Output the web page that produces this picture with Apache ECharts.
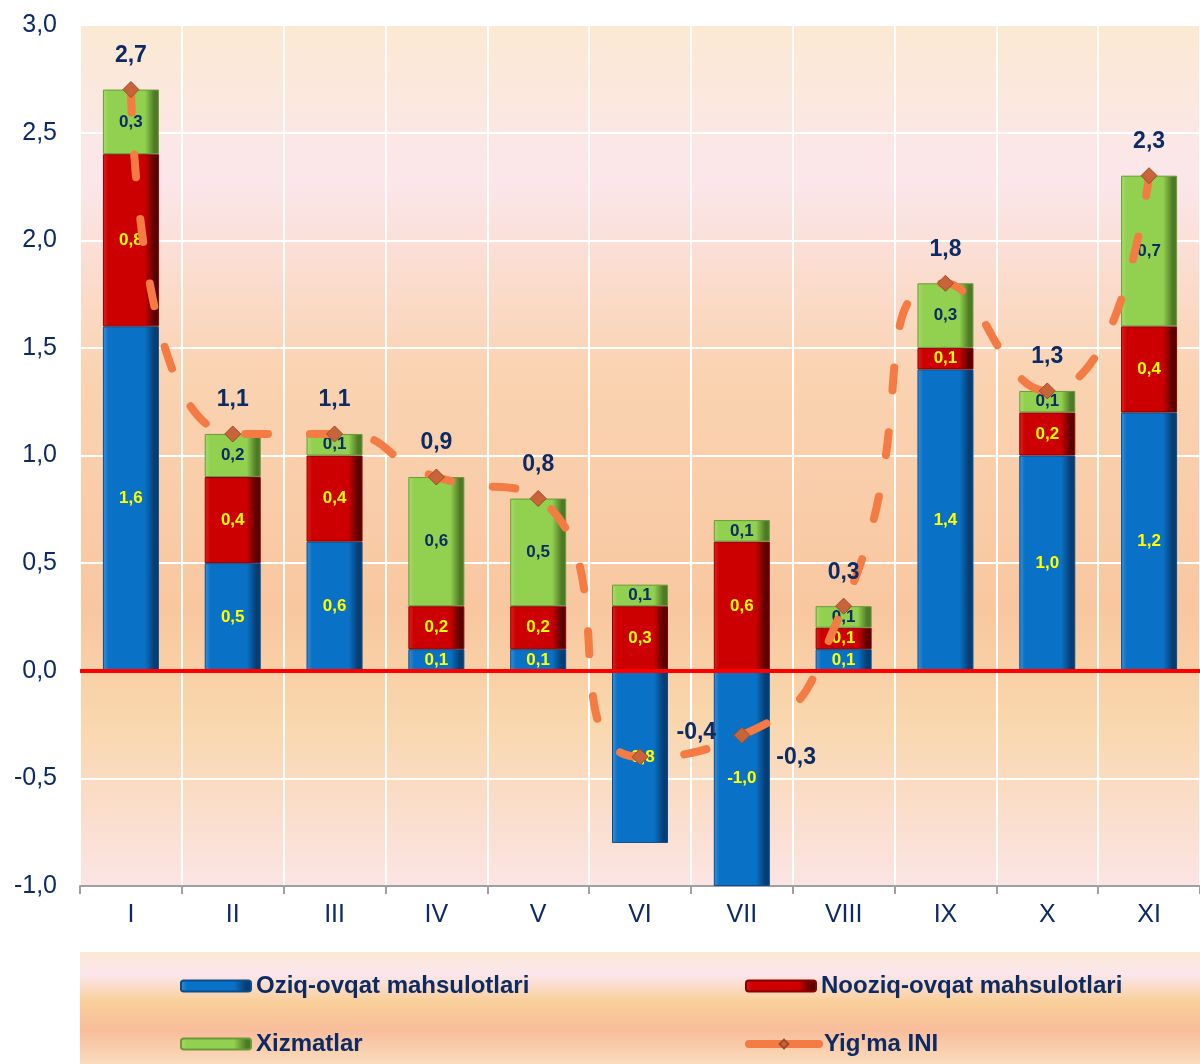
<!DOCTYPE html>
<html><head><meta charset="utf-8">
<script src="https://cdn.jsdelivr.net/npm/echarts@6/dist/echarts.min.js"></script>
<style>html,body{margin:0;padding:0;background:#fff}#c{width:1200px;height:1064px}</style>
</head><body><div id="c"></div>
<script>
const categories = ['I','II','III','IV','V','VI','VII','VIII','IX','X','XI'];
const foodValues = [1.6, 0.5, 0.6, 0.1, 0.1, -0.8, -1.0, 0.1, 1.4, 1.0, 1.2];
const nonFoodValues = [0.8, 0.4, 0.4, 0.2, 0.2, 0.3, 0.6, 0.1, 0.1, 0.2, 0.4];
const servicesValues = [0.3, 0.2, 0.1, 0.6, 0.5, 0.1, 0.1, 0.1, 0.3, 0.1, 0.7];
const totalValues = [2.7, 1.1, 1.1, 0.9, 0.8, -0.4, -0.3, 0.3, 1.8, 1.3, 2.3];
const seriesNames = ['Oziq-ovqat mahsulotlari','Nooziq-ovqat mahsulotlari','Xizmatlar',"Yig'ma INI"];

const FONT = 'Liberation Sans, Arial, sans-serif';
const NAVY = '#0c2a63';
const fmt = v => Number(v).toFixed(1).replace('.', ',');
const hgrad = (a, b, c) => ({type:'linear',x:0,y:0,x2:1,y2:0,colorStops:[
  {offset:0,color:b},{offset:0.1,color:a},{offset:0.75,color:a},{offset:0.92,color:c},{offset:1,color:c}]});

const chart = echarts.init(document.getElementById('c'), null, {renderer:'canvas'});
const barLabel = (color) => ({show:true, position:'inside', color, fontFamily:FONT, fontWeight:'bold', fontSize:17,
  formatter: p => fmt(p.value)});

const lineData = totalValues.map((v, i) => {
  const d = {value: v};
  if (i === 5) d.label = {position:'right', offset:[14,-24]};
  if (i === 6) d.label = {position:'right', offset:[12,22]};
  return d;
});

chart.setOption({
  animation:false,
  backgroundColor:'#ffffff',
  textStyle:{fontFamily:FONT},
  graphic:[{type:'rect', shape:{x:80,y:952,width:1120,height:112}, z:-10,
    style:{fill:{type:'linear',x:0,y:0,x2:0,y2:1,colorStops:[
      {offset:0,color:'#fbe9d4'},{offset:0.2,color:'#fbe6ec'},{offset:0.45,color:'#f9cf98'},
      {offset:0.7,color:'#f8bd9b'},{offset:1,color:'#fadcbc'}]}}}],
  grid:{left:80, right:0, top:25, bottom:178, show:true, borderWidth:0,
    backgroundColor:{type:'linear',x:0,y:0,x2:0,y2:1,colorStops:[
      {offset:0,color:'#fbe9d3'},{offset:0.18,color:'#fbe6eb'},{offset:0.4,color:'#fad3b2'},
      {offset:0.68,color:'#f8c7a0'},{offset:0.8,color:'#f9d6ab'},{offset:1,color:'#fbe4e4'}]}},
  legend:[
    {data:[seriesNames[0]], left:175, top:969},
    {data:[seriesNames[1]], left:740, top:969},
    {data:[seriesNames[2]], left:175, top:1027},
    {data:[seriesNames[3]], left:740, top:1027}
  ].map(l => Object.assign(l, {itemWidth:70, itemHeight:11, itemGap:8,
    lineStyle:{width:8, type:'solid', cap:'round'},
    textStyle:{color:NAVY, fontFamily:FONT, fontWeight:'bold', fontSize:24}})),
  xAxis:{type:'category', data:categories,
    axisLine:{show:true, onZero:false, lineStyle:{color:'#a0a0a0', width:2}},
    axisTick:{show:true, length:8, lineStyle:{color:'#a0a0a0', width:2}},
    axisLabel:{color:NAVY, fontSize:25, margin:17, fontFamily:FONT},
    splitLine:{show:true, lineStyle:{color:'#ffffff', width:2}}},
  yAxis:{type:'value', min:-1, max:3, interval:0.5,
    axisLine:{show:false}, axisTick:{show:false},
    axisLabel:{color:NAVY, fontSize:25, margin:23, fontFamily:FONT, formatter: v => fmt(v)},
    splitLine:{show:true, lineStyle:{color:'#ffffff', width:2}}},
  series:[
    {name:seriesNames[0], type:'bar', stack:'s', data:foodValues, barWidth:56,
      itemStyle:{color:hgrad('#0a72c6','#3a90dc','#063d73'), borderColor:'#0a4d8c', borderWidth:1},
      label:barLabel('#ffff00'),
      markLine:{silent:true, symbol:'none', label:{show:false}, z:5,
        lineStyle:{color:'#ff0000', width:4, type:'solid'}, data:[{yAxis:0}]}},
    {name:seriesNames[1], type:'bar', stack:'s', data:nonFoodValues, barWidth:56,
      itemStyle:{color:hgrad('#cc0000','#e02020','#5a0000'), borderColor:'#8a0000', borderWidth:1},
      label:barLabel('#ffff00')},
    {name:seriesNames[2], type:'bar', stack:'s', data:servicesValues, barWidth:56,
      itemStyle:{color:hgrad('#92d050','#a8dc6c','#4e7a25'), borderColor:'#6a9a3a', borderWidth:1},
      label:barLabel('#0c2a63')},
    {name:seriesNames[3], type:'line', data:lineData, smooth:0.6, z:10,
      symbol:'diamond', symbolSize:16,
      itemStyle:{color:'#c8643a', borderColor:'#a04a28', borderWidth:1},
      lineStyle:{color:'#f47b43', width:8, type:[23,42], cap:'round'},
      label:{show:true, position:'top', distance:14, color:NAVY, fontFamily:FONT, fontWeight:'bold', fontSize:23,
        formatter: p => fmt(p.value)}}
  ]
});
</script></body></html>
